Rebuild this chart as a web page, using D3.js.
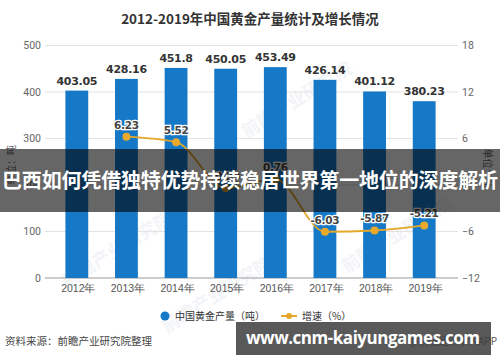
<!DOCTYPE html>
<html>
<head>
<meta charset="utf-8">
<script src="https://cdn.jsdelivr.net/npm/d3@7"></script>
<style>
  body { margin: 0; background: #fff; }
  svg { display: block; font-family: "Noto Sans CJK SC", "Noto Sans", sans-serif; }
</style>
</head>
<body>
<div id="chart"></div>
<script>
// chart data
var years = ["2012年", "2013年", "2014年", "2015年", "2016年", "2017年", "2018年", "2019年"];
var output = [403.05, 428.16, 451.8, 450.05, 453.49, 426.14, 401.12, 380.23];
var growthYears = ["2013年", "2014年", "2015年", "2016年", "2017年", "2018年", "2019年"];
var growth = [6.23, 5.52, -0.39, 0.76, -6.03, -5.87, -5.21];
var leftTicks = [0, 100, 200, 300, 400, 500];
var rightTicks = [-12, -6, 0, 6, 12, 18];

var svgWidth = 500;
var svgHeight = 362;

var svg = d3.select("#chart")
  .append("svg")
  .attr("width", svgWidth)
  .attr("height", svgHeight);

// scales
var x = d3.scaleBand()
  .domain(years)
  .range([52, 449])
  .paddingInner(0.54)
  .paddingOuter(0.27);

var yLeft = d3.scaleLinear().domain([0, 500]).range([278, 45.5]);
var yRight = d3.scaleLinear().domain([-12, 18]).range([278, 45.5]);

// faint watermarks
var marks = [[120, 255], [300, 105], [400, 240], [220, 300]];
svg.selectAll(".wm")
  .data(marks)
  .enter()
  .append("text")
  .attr("transform", d => `translate(${d[0]},${d[1]}) rotate(-32)`)
  .attr("text-anchor", "middle")
  .style("font-size", "18px")
  .style("font-weight", "bold")
  .style("fill", "#f2f4f7")
  .text("前瞻产业研究院");

// title
svg.append("text")
  .attr("x", 250)
  .attr("y", 24)
  .attr("text-anchor", "middle")
  .style("font-size", "13.5px")
  .style("font-weight", "bold")
  .style("fill", "#333")
  .text("2012-2019年中国黄金产量统计及增长情况");

// grid lines
svg.append("g")
  .selectAll("line")
  .data(leftTicks)
  .enter()
  .append("line")
  .attr("x1", 45)
  .attr("x2", 458)
  .attr("y1", d => yLeft(d))
  .attr("y2", d => yLeft(d))
  .attr("stroke", d => d === 0 ? "#999" : "#e3e3e3")
  .attr("stroke-width", 1);

// left axis
var leftAxis = d3.axisLeft(yLeft).tickValues(leftTicks).tickSize(0).tickPadding(4);
svg.append("g")
  .attr("transform", "translate(45,0)")
  .call(leftAxis)
  .call(g => g.select(".domain").remove())
  .call(g => g.selectAll("text").style("font-size", "10.5px").style("fill", "#666")
    .style("font-family", "Roboto, 'Noto Sans', sans-serif"));

// right axis
var rightAxis = d3.axisRight(yRight).tickValues(rightTicks).tickSize(0).tickPadding(4);
svg.append("g")
  .attr("transform", "translate(458,0)")
  .call(rightAxis)
  .call(g => g.select(".domain").remove())
  .call(g => g.selectAll("text").style("font-size", "10.5px").style("fill", "#666")
    .style("font-family", "Roboto, 'Noto Sans', sans-serif"));

// bottom axis
var bottomAxis = d3.axisBottom(x).tickSize(0).tickPadding(7);
svg.append("g")
  .attr("transform", "translate(1.5,278)")
  .call(bottomAxis)
  .call(g => g.select(".domain").remove())
  .call(g => g.selectAll("text").style("font-size", "10.5px").style("fill", "#555"));

// axis titles
svg.append("text")
  .attr("transform", "translate(15,165) rotate(-90)")
  .attr("text-anchor", "middle")
  .style("font-size", "10px")
  .style("fill", "#666")
  .text("单位：吨");

svg.append("text")
  .attr("transform", "translate(484,168) rotate(90)")
  .attr("text-anchor", "middle")
  .style("font-size", "10px")
  .style("fill", "#666")
  .text("单位：%");

// bars
svg.selectAll(".bar")
  .data(output)
  .enter()
  .append("rect")
  .attr("class", "bar")
  .attr("x", (d, i) => x(years[i]))
  .attr("y", d => yLeft(d))
  .attr("width", x.bandwidth())
  .attr("height", d => yLeft(0) - yLeft(d))
  .attr("fill", "#1579c8");

// bar labels
svg.selectAll(".barLabel")
  .data(output)
  .enter()
  .append("text")
  .attr("x", (d, i) => x(years[i]) + x.bandwidth() / 2)
  .attr("y", d => yLeft(d) - 6)
  .attr("text-anchor", "middle")
  .style("font-size", "11px")
  .style("font-weight", "bold")
  .style("fill", "#333")
  .style("font-family", "'DejaVu Sans', sans-serif")
  .style("letter-spacing", "-0.3px")
  .text(d => d);

// growth line
var line = d3.line()
  .x((d, i) => x(growthYears[i]) + x.bandwidth() / 2)
  .y(d => yRight(d))
  .curve(d3.curveMonotoneX);

svg.append("path")
  .datum(growth)
  .attr("d", line)
  .attr("fill", "none")
  .attr("stroke", "#e5a72a")
  .attr("stroke-width", 1.8);

svg.selectAll(".dot")
  .data(growth)
  .enter()
  .append("circle")
  .attr("cx", (d, i) => x(growthYears[i]) + x.bandwidth() / 2)
  .attr("cy", d => yRight(d))
  .attr("r", 4)
  .attr("fill", "#e8a92c");

svg.selectAll(".dotLabel")
  .data(growth)
  .enter()
  .append("text")
  .attr("x", (d, i) => x(growthYears[i]) + x.bandwidth() / 2)
  .attr("y", d => yRight(d) - 8)
  .attr("text-anchor", "middle")
  .style("font-size", "10.5px")
  .style("font-weight", "bold")
  .style("fill", "#444")
  .style("stroke", "#fff")
  .style("stroke-width", 2.5)
  .style("paint-order", "stroke")
  .style("font-family", "'DejaVu Sans', sans-serif")
  .style("letter-spacing", "-0.3px")
  .text(d => d);

// legend
svg.append("circle")
  .attr("cx", 165)
  .attr("cy", 316)
  .attr("r", 4.5)
  .attr("fill", "#1579c8");

svg.append("text")
  .attr("x", 175)
  .attr("y", 319.5)
  .style("font-size", "10px")
  .style("fill", "#333")
  .text("中国黄金产量（吨）");

svg.append("line")
  .attr("x1", 281)
  .attr("x2", 297)
  .attr("y1", 316)
  .attr("y2", 316)
  .attr("stroke", "#e5a72a")
  .attr("stroke-width", 2);

svg.append("circle")
  .attr("cx", 289)
  .attr("cy", 316)
  .attr("r", 3)
  .attr("fill", "#e5a72a");

svg.append("text")
  .attr("x", 302)
  .attr("y", 319.5)
  .style("font-size", "10px")
  .style("fill", "#333")
  .text("增速（%）");

// source
svg.append("text")
  .attr("x", 5)
  .attr("y", 345)
  .style("font-size", "10.5px")
  .style("fill", "#444")
  .text("资料来源：前瞻产业研究院整理");

svg.append("text")
  .attr("x", 497)
  .attr("y", 345)
  .attr("text-anchor", "end")
  .style("font-size", "10px")
  .style("fill", "#555")
  .text("@前瞻经济学人APP");

// overlay banner
svg.append("rect")
  .attr("x", 0)
  .attr("y", 149)
  .attr("width", 500)
  .attr("height", 63)
  .attr("fill", "rgba(0,0,0,0.6)");

svg.append("text")
  .attr("x", 250)
  .attr("y", 188)
  .attr("text-anchor", "middle")
  .attr("textLength", 496)
  .style("font-size", "20px")
  .style("font-weight", "bold")
  .style("fill", "#fff")
  .text("巴西如何凭借独特优势持续稳居世界第一地位的深度解析");

// url banner
svg.append("rect")
  .attr("x", 236)
  .attr("y", 322)
  .attr("width", 255)
  .attr("height", 33)
  .attr("fill", "rgba(60,60,60,0.85)");

svg.append("text")
  .attr("x", 246)
  .attr("y", 344)
  .attr("textLength", 234)
  .style("font-size", "17px")
  .style("font-weight", "bold")
  .style("fill", "#fff")
  .style("font-family", "'Open Sans', 'Noto Sans', sans-serif")
  .text("www.cnm-kaiyungames.com");
</script>
</body>
</html>
